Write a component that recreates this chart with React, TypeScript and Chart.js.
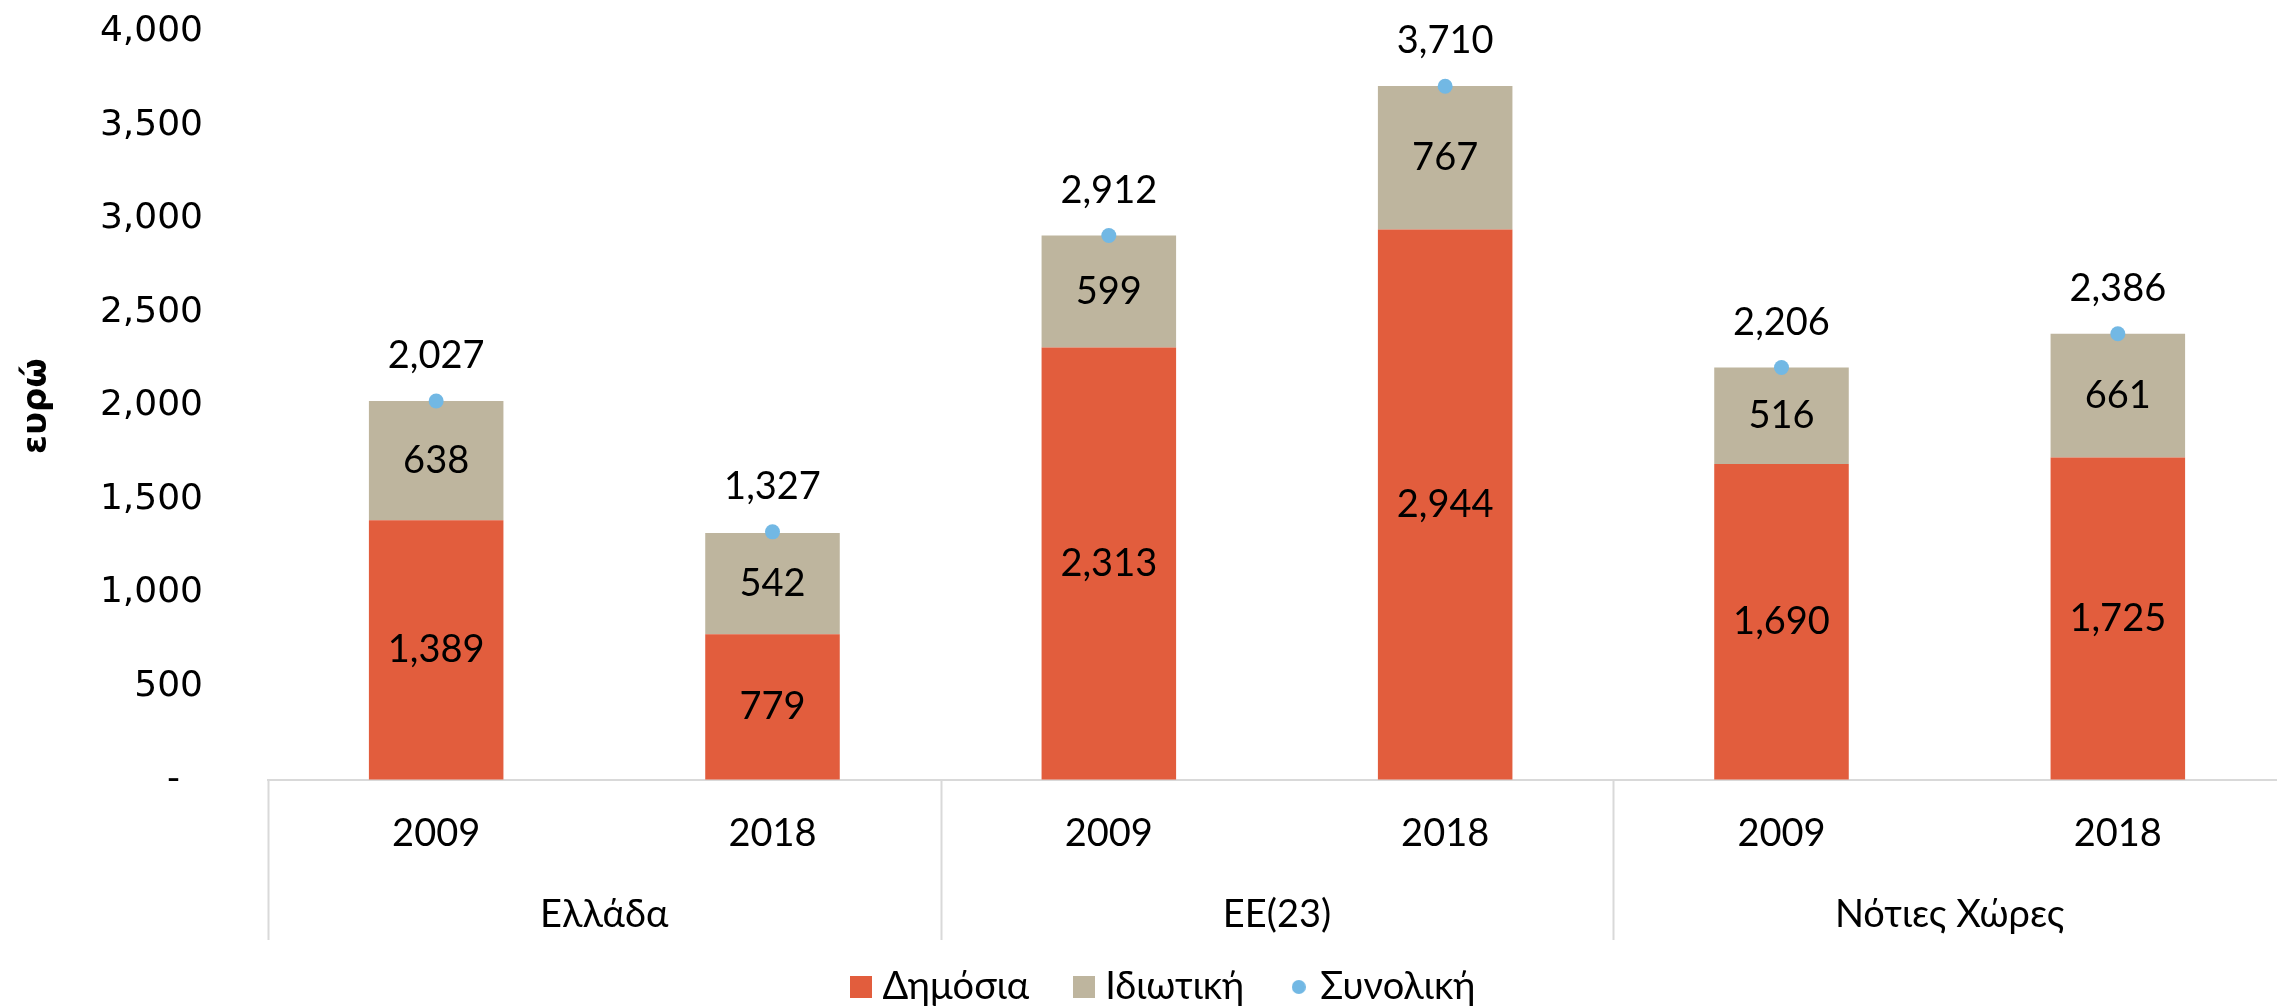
import { useEffect, useRef } from 'react';
import { Chart, registerables } from 'chart.js';

Chart.register(...registerables);

const groups = ['Ελλάδα', 'ΕΕ(23)', 'Νότιες Χώρες'];
const years = ['2009', '2018', '2009', '2018', '2009', '2018'];
const publicValues = [1389, 779, 2313, 2944, 1690, 1725];
const privateValues = [638, 542, 599, 767, 516, 661];
const totalValues = [2027, 1327, 2912, 3710, 2206, 2386];
const seriesNames = ['Δημόσια', 'Ιδιωτική', 'Συνολική'];
const yMin = 0;
const yMax = 4000;
const yStep = 500;

const RED = '#E25D3D';
const BEIGE = '#BEB59E';
const BLUE = '#72B8E4';
const LABEL_FONT = "Lato, 'Open Sans', sans-serif";
const TICK_FONT = "'DejaVu Sans', Verdana, sans-serif";

const fmt = (v: number) => v.toLocaleString('en-US');

function makeSquare(color: string, size: number) {
  const c = document.createElement('canvas');
  c.width = size;
  c.height = size;
  const g = c.getContext('2d')!;
  g.fillStyle = color;
  g.fillRect(0, 0, size, size);
  return c;
}

function makeDot(color: string, size: number) {
  const c = document.createElement('canvas');
  c.width = size;
  c.height = size;
  const g = c.getContext('2d')!;
  g.fillStyle = color;
  g.beginPath();
  g.arc(size / 2, size / 2, size / 2, 0, Math.PI * 2);
  g.fill();
  return c;
}

const annotate = {
  id: 'annotate',
  afterDatasetsDraw(chart: any) {
    const ctx = chart.ctx;
    const xs = chart.scales.x;
    const area = chart.chartArea;
    ctx.save();
    // group separators
    const centers = years.map((_, i) => xs.getPixelForValue(i));
    const half = (centers[1] - centers[0]) / 2;
    const bounds = [centers[0] - half, centers[1] + half, centers[3] + half, centers[5] + half];
    ctx.strokeStyle = '#d9d9d9';
    ctx.lineWidth = 2;
    bounds.forEach((bx) => {
      ctx.beginPath();
      ctx.moveTo(Math.round(bx) + 0.5, area.bottom);
      ctx.lineTo(Math.round(bx) + 0.5, 940);
      ctx.stroke();
    });
    ctx.font = `38px ${LABEL_FONT}`;
    ctx.fillStyle = '#000';
    ctx.textAlign = 'center';
    ctx.textBaseline = 'middle';
    groups.forEach((gname, g) => {
      ctx.fillText(gname, (centers[2 * g] + centers[2 * g + 1]) / 2, 915);
    });
    // segment labels
    [0, 1].forEach((di) => {
      const meta = chart.getDatasetMeta(di);
      meta.data.forEach((el: any, i: number) => {
        const v = chart.data.datasets[di].data[i] as number;
        const p = el.getProps(['x', 'y', 'base'], true);
        ctx.fillText(fmt(v), p.x, (p.y + p.base) / 2);
      });
    });
    const lm = chart.getDatasetMeta(2);
    lm.data.forEach((el: any, i: number) => {
      ctx.fillText(fmt(totalValues[i]), el.x, el.y - 45);
    });
    ctx.restore();
  },
};

export default function App() {
  const ref = useRef<HTMLCanvasElement>(null);
  useEffect(() => {
    const squareRed = makeSquare(RED, 22);
    const squareBeige = makeSquare(BEIGE, 22);
    const dot = makeDot(BLUE, 14);
    const chart = new Chart(ref.current!, {
      type: 'bar',
      data: {
        labels: years,
        datasets: [
          {
            type: 'bar',
            label: seriesNames[0],
            data: publicValues,
            backgroundColor: RED,
            borderWidth: 0,
            barPercentage: 0.4,
            categoryPercentage: 1,
            stack: 'main',
          },
          {
            type: 'bar',
            label: seriesNames[1],
            data: privateValues,
            backgroundColor: BEIGE,
            borderWidth: 0,
            barPercentage: 0.4,
            categoryPercentage: 1,
            stack: 'main',
          },
          {
            type: 'line',
            label: seriesNames[2],
            data: totalValues,
            showLine: false,
            pointRadius: 7.5,
            pointBackgroundColor: BLUE,
            pointBorderWidth: 0,
            borderColor: BLUE,
            order: -1,
            stack: 'total',
          } as any,
        ],
      },
      options: {
        animation: false,
        responsive: false,
        devicePixelRatio: 1,
        layout: { padding: { top: 32, right: 14, left: 48, bottom: 0 } },
        plugins: {
          tooltip: { enabled: false },
          legend: {
            position: 'bottom',
            labels: {
              usePointStyle: true,
              boxWidth: 5,
              boxHeight: 38,
              padding: 52,
              color: '#000',
              font: { family: LABEL_FONT, size: 38 },
              generateLabels: () => [
                { text: seriesNames[0], pointStyle: squareRed as any, fillStyle: RED, strokeStyle: RED, lineWidth: 0, hidden: false, datasetIndex: 0 },
                { text: seriesNames[1], pointStyle: squareBeige as any, fillStyle: BEIGE, strokeStyle: BEIGE, lineWidth: 0, hidden: false, datasetIndex: 1 },
                { text: seriesNames[2], pointStyle: dot as any, fillStyle: BLUE, strokeStyle: BLUE, lineWidth: 0, hidden: false, datasetIndex: 2 },
              ],
            },
          },
        },
        scales: {
          x: {
            stacked: true,
            grid: { display: false, drawTicks: false },
            border: { display: true, color: '#d9d9d9', width: 2 },
            ticks: {
              font: { family: LABEL_FONT, size: 38 },
              color: '#000',
              padding: 31,
              maxRotation: 0,
              autoSkip: false,
            },
            afterFit: (scale: any) => {
              scale.height = 136;
            },
          },
          y: {
            stacked: true,
            min: yMin,
            max: yMax,
            grid: {
              display: true,
              drawOnChartArea: false,
              drawTicks: true,
              tickLength: 57,
              color: 'rgba(0,0,0,0)',
            },
            border: { display: false },
            ticks: {
              stepSize: yStep,
              font: { family: TICK_FONT, size: 36 },
              color: '#000',
              padding: 8,
              callback: (v: any) => (Number(v) === 0 ? '-  ' : fmt(Number(v))),
            },
            title: {
              display: true,
              text: 'ευρώ',
              color: '#000',
              font: { family: TICK_FONT, size: 34, weight: 'bold' },
              padding: { top: -31, bottom: 0 },
            },
            afterFit: (scale: any) => {
              scale.width = 220;
            },
          },
        },
      },
      plugins: [annotate],
    });
    return () => chart.destroy();
  }, []);
  return (
    <div
      style={{
        position: 'absolute',
        left: 0,
        top: 0,
        width: 2277,
        height: 1007,
        overflow: 'hidden',
        background: '#fff',
      }}
    >
      <canvas ref={ref} width={2300} height={1016} style={{ display: 'block' }} />
    </div>
  );
}
